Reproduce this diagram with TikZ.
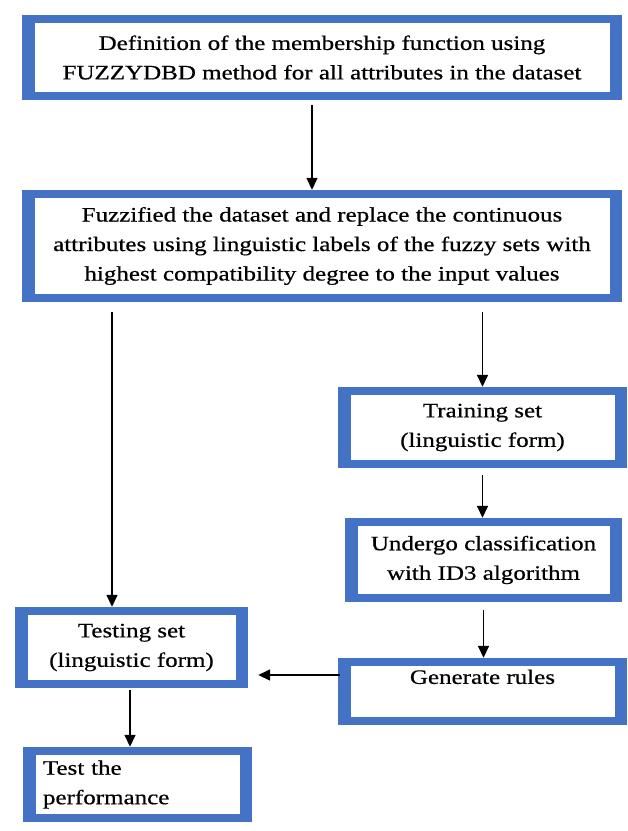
\documentclass[tikz,border=0pt]{standalone}
\usepackage{fontspec}
\setmainfont{Liberation Serif}[FakeStretch=1.22,FakeBold=0.6]
\usetikzlibrary{arrows.meta,backgrounds}
\definecolor{boxblue}{HTML}{4472C4}
\definecolor{shlight}{HTML}{E4E4E4}
\definecolor{shdark}{HTML}{8E9AAE}
\begin{document}
\begin{tikzpicture}[x=1pt,y=-1pt,
  box/.style={fill=boxblue, inner sep=0pt, align=center,
    font=\fontsize{20.5pt}{29.5pt}\selectfont,
    path picture={\fill[white] ([xshift=13pt,yshift=-8pt]path picture bounding box.north west) rectangle ([xshift=-12pt,yshift=8pt]path picture bounding box.south east);}},
  arr/.style={line width=1.5pt, -{Triangle[length=12pt,width=11pt]}}]
\useasboundingbox (0,0) rectangle (628,831);
\fill[white] (0,0) rectangle (628,831);
\node[box, minimum width=600pt, minimum height=85pt] (A) at (322,57.5)
  {Definition of the membership function using\\FUZZYDBD method for all attributes in the dataset};
\node[box, minimum width=600pt, minimum height=112pt] (B) at (322,246)
  {Fuzzified the dataset and replace the continuous\\attributes using linguistic labels of the fuzzy sets with\\highest compatibility degree to the input values};
\node[box, minimum width=289pt, minimum height=81pt] (C) at (482.5,427.5)
  {Training set\\(linguistic form)};
\node[box, minimum width=277pt, minimum height=84pt] (D) at (483.5,560)
  {Undergo classification\\with ID3 algorithm};
\node[box, minimum width=289pt, minimum height=67pt] (E) at (482.5,691.5)
  {Generate rules\\\mbox{}};
\node[box, minimum width=233pt, minimum height=81pt] (F) at (131.5,647.5)
  {Testing set\\(linguistic form)};
\node[box, minimum width=229pt, minimum height=75pt, text width=189pt, align=left] (G) at (137.5,784.5)
  {Test the\\performance};
\begin{scope}[on background layer]
\foreach \n in {A,B,C,D,E,F,G}{
  \fill[shdark] ([xshift=-2pt,yshift=2pt]\n.north west) rectangle ([xshift=9pt,yshift=-11pt]\n.south east);
  \fill[shlight] ([xshift=-4pt,yshift=4pt]\n.north west) rectangle ([xshift=6pt,yshift=-8pt]\n.south east);
}
\end{scope}
\coordinate (as) at ([xshift=-10pt,yshift=-5pt]A.south);
\coordinate (bs) at ([yshift=-10pt]B.south);
\coordinate (fn) at ([xshift=-19.5pt]F.north);
\coordinate (cs) at ([yshift=-7pt]C.south);
\coordinate (ds) at ([yshift=-8pt]D.south);
\coordinate (ew) at ([xshift=2pt,yshift=16.5pt]E.west);
\coordinate (fe) at ([xshift=10pt]F.east);
\coordinate (fs) at ([xshift=-1.5pt,yshift=-2pt]F.south);
\draw[arr] (as) -- (as |- B.north);
\draw[arr] (bs -| C.north) -- (C.north);
\draw[arr] (bs -| fn) -- (fn);
\draw[arr] (cs) -- (cs |- D.north);
\draw[arr] (ds) -- (ds |- E.north);
\draw[arr] (ew) -- (ew -| fe);
\draw[arr] (fs) -- (fs |- G.north);
\end{tikzpicture}
\end{document}
